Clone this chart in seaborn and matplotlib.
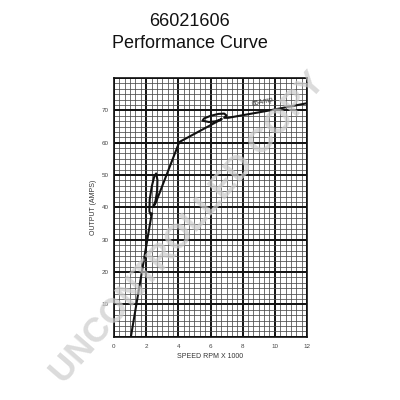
import numpy as np
import pandas as pd
import matplotlib
matplotlib.use("Agg")
import matplotlib.pyplot as plt
import seaborn as sns

# Performance curve (speed in RPM x 1000, output in amps), traced in drawing order
speed = [1.05, 2.35, 2.28, 2.2, 2.22, 2.35, 2.5, 2.62, 2.7, 2.68, 2.58, 2.45, 2.6,
         4.06, 5.4, 6.7, 6.3, 5.9, 5.5, 5.6, 6.0, 6.5, 6.85, 7.0, 6.85, 7.1, 9.7, 12.0]
output = [0.0, 38.2, 37.8, 38.8, 42.5, 46.5, 49.5, 50.5, 48.5, 45.0, 42.0, 40.2, 41.5,
          60.2, 63.8, 67.3, 66.6, 66.4, 66.8, 67.5, 68.3, 68.9, 69.0, 68.4, 67.7, 67.7, 70.0, 72.2]

x_ticks = [0, 2, 4, 6, 8, 10, 12]
y_ticks = [10, 20, 30, 40, 50, 60, 70]
title_lines = ["66021606", "Performance Curve"]
x_label = "SPEED RPM X 1000"
y_label = "OUTPUT (AMPS)"
rating_label = "65Amp."
watermark = "UNCONTROLLED COPY"

df = pd.DataFrame({"speed": speed, "output": output})

sns.set_style("white")
small_font = ["Liberation Sans Narrow", "Liberation Sans", "DejaVu Sans"]
plt.rcParams["font.family"] = ["Liberation Sans", "DejaVu Sans"]

fig = plt.figure(figsize=(4, 4), dpi=100)
ax = fig.add_axes([0.285, 0.158, 0.4825, 0.647])

ax.set_xlim(0, 12)
ax.set_ylim(0, 80)

# graph-paper grid: 6 minor cells per major division on both axes
for i in range(37):
    xv = i / 3
    major = i % 6 == 0
    ax.axvline(xv, color="#111111" if major else "#4a4a4a",
               lw=1.4 if major else 0.55, zorder=1)
for i in range(49):
    yv = i * 10 / 6
    major = i % 6 == 0
    ax.axhline(yv, color="#111111" if major else "#4a4a4a",
               lw=1.4 if major else 0.55, zorder=1)

sns.lineplot(data=df, x="speed", y="output", sort=False, estimator=None,
             color="#111111", lw=1.5, ax=ax, zorder=3)

ax.text(9.3, 72.6, rating_label, fontsize=5, family=small_font, color="#333333",
        rotation=13, ha="center", va="center", zorder=4)

ax.set_xticks(x_ticks)
ax.set_yticks(y_ticks)
ax.set_xticklabels([str(v) for v in x_ticks], fontsize=4.5, family=small_font, color="#444444")
ax.set_yticklabels([str(v) for v in y_ticks], fontsize=4.5, family=small_font, color="#444444")
ax.tick_params(axis="x", length=0, pad=5)
ax.tick_params(axis="y", length=0, pad=4)
ax.set_xlabel(x_label, fontsize=5, family=small_font, color="#333333", labelpad=3)
ax.set_ylabel(y_label, fontsize=5, family=small_font, color="#333333", labelpad=3)
for s in ax.spines.values():
    s.set_color("#111111")
    s.set_linewidth(1.2)

fig.text(0.475, 0.945, title_lines[0], ha="center", va="center", fontsize=13, color="#111111")
fig.text(0.475, 0.89, title_lines[1], ha="center", va="center", fontsize=13, color="#111111")

fig.text(0.47, 0.43, watermark, ha="center", va="center", fontsize=25, fontweight="bold",
         color="#cccccc", alpha=0.7, rotation=49, zorder=10)

fig.savefig("out.png", dpi=100, facecolor="white")
